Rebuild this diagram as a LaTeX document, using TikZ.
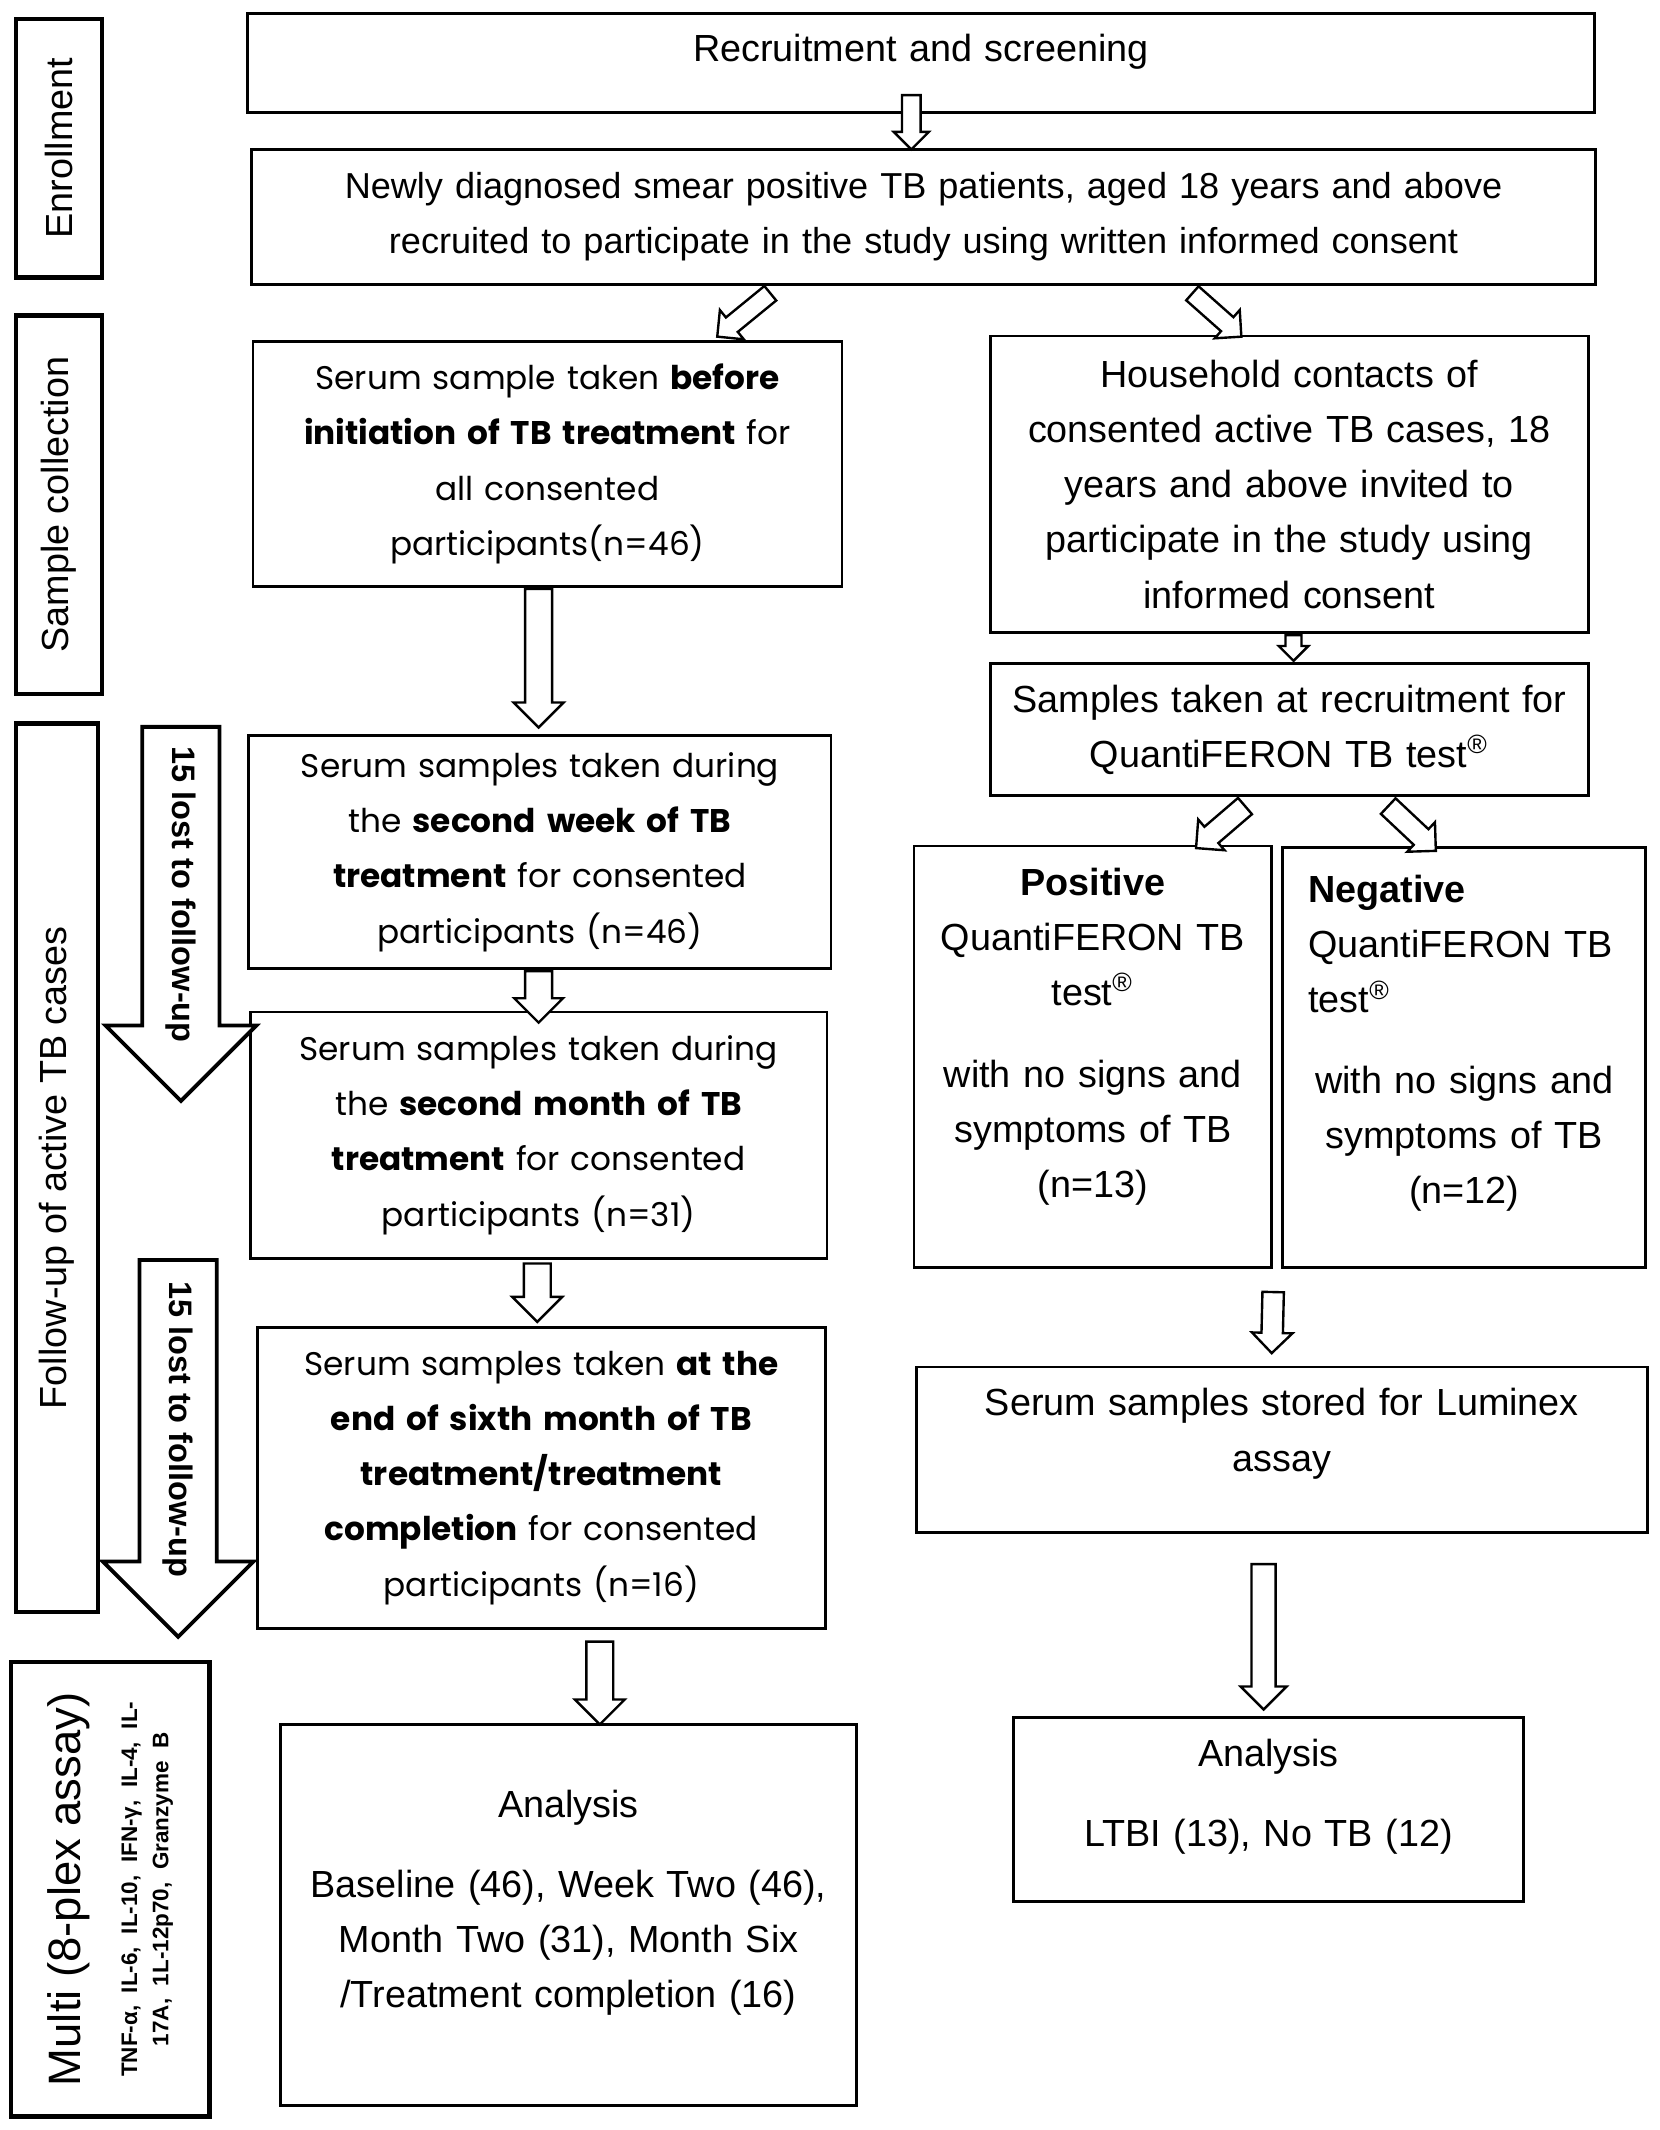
\documentclass[tikz,border=0pt]{standalone}
\usepackage{fontspec}
\setmainfont{Liberation Sans}
\newfontfamily\widefont{Poppins}
\usetikzlibrary{shapes.arrows,calc}

\tikzset{
  box/.style={draw, line width=0.6pt, align=center, inner sep=0pt, font=\fontsize{7.9}{11.55}\selectfont},
  widebox/.style={box, font=\widefont\fontsize{6.85}{11.55}\selectfont},
  stagebox/.style={draw, line width=0.9pt, align=center, inner sep=0pt, rotate=90, font=\fontsize{7.9}{11.55}\selectfont},
  hollow/.style 2 args={single arrow, draw, fill=white, line width=0.5pt, inner xsep=0pt, inner ysep=#1, minimum width=0pt, single arrow head extend=#2},
  lostarrow/.style={single arrow, draw, fill=white, line width=0.8pt, rotate=-90, anchor=tail, minimum height=27.5mm, text height=1.8mm, text depth=0.5mm, inner xsep=0.5mm, inner ysep=1.55mm, single arrow head extend=2.7mm, font=\bfseries\fontsize{6.8}{8}\selectfont}
}

% hollow block arrow: shaft half width, head extend, from, to
\newcommand{\blockarrow}[4]{%
  \path let \p1=($(#4)-(#3)$), \n1={atan2(\y1,\x1)}, \n2={veclen(\x1,\y1)} in
    node[hollow={#1}{#2}, rotate=\n1, minimum height=\n2, anchor=tail] at (#3) {};}

\begin{document}
\begin{tikzpicture}[x=0.1mm, y=-0.1mm]
  \path[fill=white] (0,0) rectangle (1220,1566);

  % stage labels
  \node[stagebox, minimum width=19mm, minimum height=6.3mm] (enroll) at (43.5,109) {Enrollment};
  \node[stagebox, minimum width=27.8mm, minimum height=6.3mm] (sampling) at (43.5,371) {Sample collection};
  \node[stagebox, minimum width=65.3mm, minimum height=6mm] (follow) at (42,858.5) {Follow-up of active TB cases};
  \node[stagebox, minimum width=33.4mm, minimum height=14.6mm, text width=31mm] (multi) at (81,1389)
    {{\fontsize{9.5}{11}\selectfont Multi (8-plex assay)\par}\vspace{1.9mm}%
     {\bfseries\fontsize{4.7}{6.5}\selectfont TNF-α, IL-6, IL-10, IFN-γ, IL-4, IL-\\17A, 1L-12p70, Granzyme B\par}\vspace{1.2mm}};

  % enrollment
  \node[box, minimum width=99mm, minimum height=7.3mm, text width=97mm] (recruit) at (677,46.5)
    {Recruitment and screening\\[-1.8mm]\mbox{}};
  \node[box, minimum width=98.8mm, minimum height=9.9mm, text width=97mm, font=\fontsize{7.55}{11.55}\selectfont] (newly) at (679,159.5)
    {Newly diagnosed smear positive TB patients, aged 18 years and above\\
     recruited to participate in the study using written informed consent};

  % active TB cases
  \node[widebox, minimum width=43.3mm, minimum height=18mm, text width=42mm] (base) at (402.5,341)
    {Serum sample taken \textbf{before}\\ \textbf{initiation of TB treatment} for\\ all consented\\ participants(n=46)};
  \node[widebox, minimum width=42.8mm, minimum height=17.1mm, text width=42mm] (week) at (397,626.5)
    {Serum samples taken during\\ the \textbf{second week of TB}\\ \textbf{treatment} for consented\\ participants (n=46)};
  \node[widebox, minimum width=42.4mm, minimum height=18.1mm, text width=42mm] (month2) at (396,834.5)
    {Serum samples taken during\\ the \textbf{second month of TB}\\ \textbf{treatment} for consented\\ participants (n=31)};
  \node[widebox, minimum width=41.8mm, minimum height=22.1mm, text width=41mm] (month6) at (398,1086.5)
    {Serum samples taken \textbf{at the}\\ \textbf{end of sixth month of TB}\\ \textbf{treatment/treatment}\\ \textbf{completion} for consented\\ participants (n=16)};
  \node[box, minimum width=42.4mm, minimum height=28mm, text width=41mm] (anL) at (418,1408)
    {Analysis\\[1.8mm] Baseline (46), Week Two (46),\\ Month Two (31), Month Six\\ /Treatment completion (16)\\[-1.7mm]\mbox{}};

  % household contacts
  \node[box, minimum width=44mm, minimum height=21.8mm, text width=43mm] (house) at (948,356)
    {Household contacts of\\ consented active TB cases, 18\\ years and above invited to\\ participate in the study using\\ informed consent};
  \node[box, minimum width=44mm, minimum height=9.7mm, text width=43mm] (qft) at (948,536.5)
    {Samples taken at recruitment for\\ QuantiFERON TB test\textsuperscript{®}};
  \node[box, minimum width=26.3mm, minimum height=31mm, text width=25mm] (pos) at (803.5,777)
    {\textbf{Positive}\\ QuantiFERON TB\\ test\textsuperscript{®}\\[1.95mm] with no signs and\\ symptoms of TB\\ (n=13)\\[-0.5mm]\mbox{}};
  \node[box, minimum width=26.7mm, minimum height=30.9mm, text width=22.9mm] (neg) at (1076.5,777.5)
    {\makebox[\linewidth][l]{\textbf{Negative}}\\ \makebox[\linewidth][l]{QuantiFERON TB}\\
     \makebox[\linewidth][l]{test\textsuperscript{®}}\\[1.85mm] with no signs and\\ symptoms of TB\\ (n=12)\\[-1.4mm]\mbox{}};
  \node[box, minimum width=53.7mm, minimum height=12.2mm, text width=52mm] (lum) at (942.5,1066)
    {Serum samples stored for Luminex\\ assay\\[-1.1mm]\mbox{}};
  \node[box, minimum width=37.5mm, minimum height=13.5mm, text width=36mm] (anR) at (932.5,1330.5)
    {Analysis\\[1.85mm] LTBI (13), No TB (12)\\[-1.6mm]\mbox{}};

  % losses to follow-up
  \node[lostarrow] (lost1) at (133,533) {15 lost to follow-up};
  \node[lostarrow, minimum height=27.7mm] (lost2) at (131,925) {15 lost to follow-up};

  % hollow arrows between boxes
  \blockarrow{0.6mm}{0.6mm}{[xshift=-0.7mm,yshift=1.5mm]recruit.south}{[xshift=-0.9mm]newly.north}
  \blockarrow{0.6mm}{0.7mm}{[xshift=-11.2mm,yshift=-0.5mm]newly.south}{[xshift=12.55mm,yshift=0.3mm]base.north}
  \blockarrow{0.6mm}{0.7mm}{[xshift=19.7mm,yshift=-0.5mm]newly.south}{[xshift=-3.6mm,yshift=-0.1mm]house.north}
  \blockarrow{0.9mm}{0.85mm}{[xshift=-0.65mm]base.south}{[xshift=-0.1mm,yshift=0.6mm]week.north}
  \blockarrow{0.5mm}{0.5mm}{[xshift=0.3mm]house.south}{[xshift=0.3mm,yshift=0.2mm]qft.north}
  \blockarrow{0.7mm}{0.7mm}{[xshift=-3.2mm,yshift=-0.6mm]qft.south}{[xshift=7.65mm,yshift=-0.2mm]pos.north}
  \blockarrow{0.7mm}{0.7mm}{[xshift=7.2mm,yshift=-0.6mm]qft.south}{[xshift=-2.15mm,yshift=-0.3mm]neg.north}
  \blockarrow{0.9mm}{0.8mm}{[xshift=-0.1mm]week.south}{[yshift=-0.8mm]month2.north}
  \blockarrow{0.9mm}{0.85mm}{[xshift=-0.1mm,yshift=-0.2mm]month2.south}{[xshift=-0.3mm,yshift=0.4mm]month6.north}
  \blockarrow{0.9mm}{0.85mm}{[xshift=4.3mm,yshift=-0.8mm]month6.south}{[xshift=2.3mm]anL.north}
  \blockarrow{0.7mm}{0.7mm}{[yshift=-1.6mm]pos.south east}{[xshift=-0.75mm,yshift=1mm]lum.north}
  \blockarrow{0.8mm}{0.8mm}{[xshift=-1.35mm,yshift=-2.1mm]lum.south}{[xshift=-0.35mm,yshift=0.6mm]anR.north}
\end{tikzpicture}
\end{document}
